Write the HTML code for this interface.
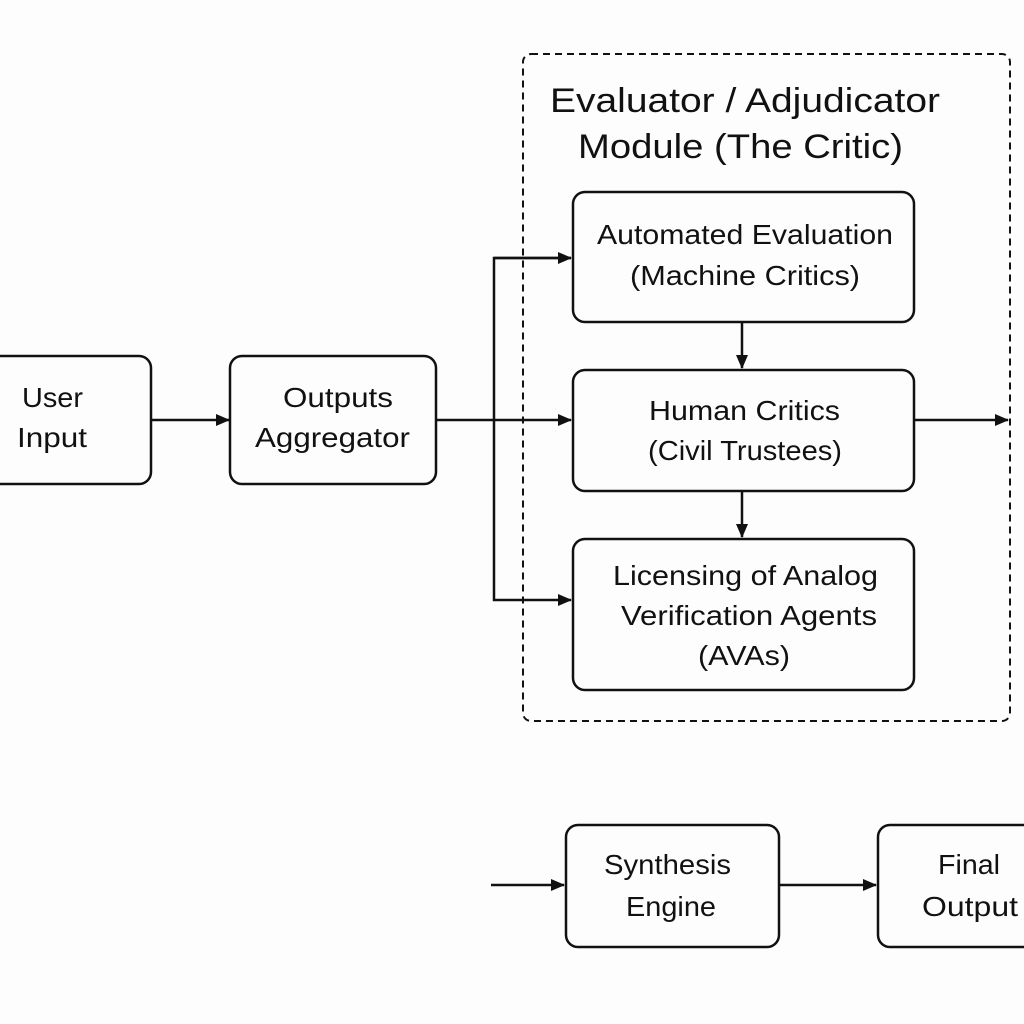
<!DOCTYPE html>
<html><head><style>
html,body{margin:0;padding:0;background:#fdfdfd;}
svg{display:block}
text{font-family:"Liberation Sans",sans-serif;fill:#111;}
</style></head><body>
<svg width="1024" height="1024" viewBox="0 0 1024 1024" xmlns="http://www.w3.org/2000/svg">
<defs>
<marker id="a" markerWidth="14" markerHeight="14" refX="13" refY="7" orient="auto" markerUnits="userSpaceOnUse" viewBox="0 0 14 14">
<path d="M0,1 L14,7 L0,13 z" fill="#111"/>
</marker>
</defs>
<g fill="none" stroke="#111" stroke-width="2.5">
<rect x="523" y="54" width="487" height="667" rx="8" stroke-dasharray="7,5" stroke-width="2"/>
<rect x="-20" y="356" width="171" height="128" rx="12"/>
<rect x="230" y="356" width="206" height="128" rx="12"/>
<rect x="573" y="192" width="341" height="130" rx="12"/>
<rect x="573" y="370" width="341" height="121" rx="12"/>
<rect x="573" y="539" width="341" height="151" rx="12"/>
<rect x="566" y="825" width="213" height="122" rx="12"/>
<rect x="878" y="825" width="170" height="122" rx="12"/>
<path d="M152,420 H229" marker-end="url(#a)"/>
<path d="M437,420 H571" marker-end="url(#a)"/>
<path d="M571,258 H494 V600 H571" marker-end="url(#a)"/>
<path d="M494,258 H571" marker-end="url(#a)"/>
<path d="M742,322 V368" marker-end="url(#a)"/>
<path d="M742,491 V537" marker-end="url(#a)"/>
<path d="M915,420 H1008" marker-end="url(#a)"/>
<path d="M491,885 H564" marker-end="url(#a)"/>
<path d="M780,885 H876" marker-end="url(#a)"/>
</g>
<g font-size="28" lengthAdjust="spacingAndGlyphs">
<text x="550" y="112" font-size="34" textLength="390" lengthAdjust="spacingAndGlyphs">Evaluator / Adjudicator</text>
<text x="578" y="158" font-size="34" textLength="325" lengthAdjust="spacingAndGlyphs">Module (The Critic)</text>
<text x="22" y="407" textLength="61" lengthAdjust="spacingAndGlyphs">User</text>
<text x="17" y="447" textLength="70" lengthAdjust="spacingAndGlyphs">Input</text>
<text x="283" y="407" textLength="110" lengthAdjust="spacingAndGlyphs">Outputs</text>
<text x="255" y="447" textLength="155" lengthAdjust="spacingAndGlyphs">Aggregator</text>
<text x="597" y="244" textLength="296" lengthAdjust="spacingAndGlyphs">Automated Evaluation</text>
<text x="630" y="285" textLength="230" lengthAdjust="spacingAndGlyphs">(Machine Critics)</text>
<text x="649" y="420" textLength="191" lengthAdjust="spacingAndGlyphs">Human Critics</text>
<text x="648" y="460" textLength="194" lengthAdjust="spacingAndGlyphs">(Civil Trustees)</text>
<text x="613" y="585" textLength="265" lengthAdjust="spacingAndGlyphs">Licensing of Analog</text>
<text x="621" y="625" textLength="256" lengthAdjust="spacingAndGlyphs">Verification Agents</text>
<text x="698" y="665" textLength="92" lengthAdjust="spacingAndGlyphs">(AVAs)</text>
<text x="604" y="874" textLength="127" lengthAdjust="spacingAndGlyphs">Synthesis</text>
<text x="626" y="916" textLength="90" lengthAdjust="spacingAndGlyphs">Engine</text>
<text x="938" y="874" textLength="62" lengthAdjust="spacingAndGlyphs">Final</text>
<text x="922" y="916" textLength="96" lengthAdjust="spacingAndGlyphs">Output</text>
</g>
</svg>
</body></html>
